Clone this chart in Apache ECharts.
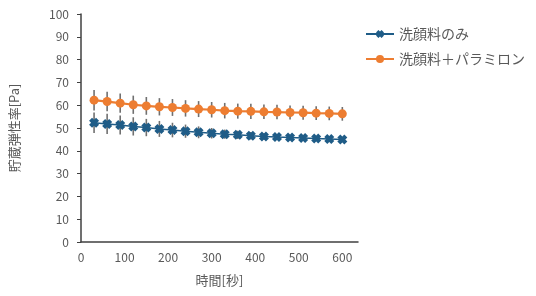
<!DOCTYPE html>
<html>
<head>
<meta charset="utf-8">
<script src="https://cdn.jsdelivr.net/npm/echarts@6/dist/echarts.min.js"></script>
<style>html,body{margin:0;padding:0;background:#fff}#c{width:536px;height:296px}</style>
</head>
<body>
<div id="c"></div>
<script>
const times = [30,60,90,120,150,180,210,240,270,300,330,360,390,420,450,480,510,540,570,600];
const seriesNames = ['洗顔料のみ','洗顔料＋パラミロン'];
const washOnly = [52.3,51.8,51.3,50.7,50.2,49.6,49.1,48.6,48.1,47.7,47.3,47.0,46.6,46.3,46.0,45.8,45.6,45.4,45.2,45.0];
const washOnlyErr = [4.5,4.4,4.2,4.0,3.8,3.5,3.2,2.9,2.6,2.3,2.0,1.8,1.6,1.4,1.2,1.1,1.0,0.9,0.8,0.8];
const washParamylon = [62.2,61.6,60.9,60.2,59.7,59.3,59.0,58.6,58.3,58.0,57.6,57.4,57.3,57.1,57.0,56.8,56.7,56.5,56.4,56.2];
const washParamylonErr = [4.5,4.3,4.2,4.0,3.9,3.8,3.7,3.6,3.5,3.4,3.4,3.3,3.3,3.2,3.2,3.1,3.1,3.0,3.0,3.0];
const xTicks = [0,100,200,300,400,500,600];
const yTicks = [0,10,20,30,40,50,60,70,80,90,100];

const blue = '#1F5C87';
const orange = '#ED7D31';
const errColor = '#707070';
const font = '"Noto Sans CJK JP", "Noto Sans", sans-serif';
const xSymbol = 'path://M0,3 L3,0 L5,2 L7,0 L10,3 L8,5 L10,7 L7,10 L5,8 L3,10 L0,7 L2,5 Z';

function pairs(vals){ return times.map((t,i)=>[t,vals[i]]); }
function errData(vals, errs){ return times.map((t,i)=>[t, vals[i]-errs[i], vals[i]+errs[i]]); }
function errSeries(vals, errs){
  return {
    type:'custom', silent:true, z:1,
    data: errData(vals, errs),
    renderItem: function(params, api){
      const lo = api.coord([api.value(0), api.value(1)]);
      const hi = api.coord([api.value(0), api.value(2)]);
      return {type:'line', shape:{x1:lo[0],y1:lo[1],x2:hi[0],y2:hi[1]}, style:{stroke:errColor, lineWidth:1.6}};
    }
  };
}

const chart = echarts.init(document.getElementById('c'), null, {renderer:'canvas'});
chart.setOption({
  animation:false,
  backgroundColor:'#fff',
  textStyle:{fontFamily:font},
  grid:{left:80, top:14, width:278, height:228, containLabel:false},
  legend:{
    orient:'vertical', left:360, top:22, itemWidth:28, itemHeight:10, itemGap:11,
    data:seriesNames,
    textStyle:{color:'#595959', fontSize:14, fontFamily:font}
  },
  xAxis:{
    type:'value', min:0, max:636, interval:100,
    name:'時間[秒]', nameLocation:'middle', nameGap:32,
    nameTextStyle:{color:'#595959', fontSize:13, fontFamily:font},
    axisLine:{show:true, lineStyle:{color:'#404040', width:1.5}},
    axisTick:{show:false},
    splitLine:{show:false},
    axisLabel:{color:'#595959', fontSize:12, margin:9, showMaxLabel:false,
      formatter: v => xTicks.includes(v) ? String(v) : ''}
  },
  yAxis:{
    type:'value', min:0, max:100, interval:10,
    name:'貯蔵弾性率[Pa]', nameLocation:'middle', nameGap:60, nameRotate:90,
    nameTextStyle:{color:'#595959', fontSize:13, fontFamily:font},
    axisLine:{show:true, lineStyle:{color:'#404040', width:1.5}},
    axisTick:{show:true, length:4, lineStyle:{color:'#404040'}},
    splitLine:{show:false},
    axisLabel:{color:'#595959', fontSize:12, margin:12,
      formatter: v => yTicks.includes(v) ? String(v) : ''}
  },
  series:[
    errSeries(washOnly, washOnlyErr),
    errSeries(washParamylon, washParamylonErr),
    {name:seriesNames[0], type:'line', data:pairs(washOnly), z:3,
     symbol:xSymbol, symbolSize:10, showAllSymbol:true,
     itemStyle:{color:blue}, lineStyle:{color:blue, width:1.5}},
    {name:seriesNames[1], type:'line', data:pairs(washParamylon), z:3,
     symbol:'circle', symbolSize:9, showAllSymbol:true,
     itemStyle:{color:orange}, lineStyle:{color:orange, width:2.2}}
  ]
});
</script>
</body>
</html>
